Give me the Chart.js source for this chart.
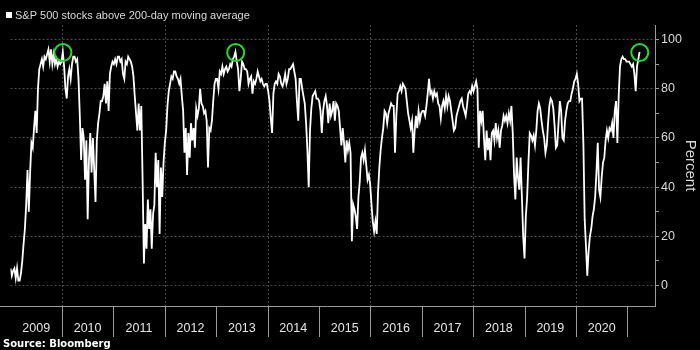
<!DOCTYPE html>
<html>
<head>
<meta charset="utf-8">
<script src="https://cdn.jsdelivr.net/npm/chart.js@4.4.1/dist/chart.umd.min.js"></script>
<style>
  html, body { margin: 0; padding: 0; background: #000; }
  canvas { display: block; }
</style>
</head>
<body>
<canvas id="breadthChart" width="700" height="350"></canvas>
<script>
// Share of S&P 500 members trading above their 200-day moving average
const seriesLabel = 'S&P 500 stocks above 200-day moving average';
const sourceLabel = 'Source: Bloomberg';
const yearLabels = ['2009', '2010', '2011', '2012', '2013', '2014', '2015', '2016', '2017', '2018', '2019', '2020'];
const yTicks = [0, 10, 20, 30, 40, 50, 60, 70, 80, 90, 100];

// one reading roughly every 9 days, starting January 2009
const startYear = 2009.0;
const stepYears = 0.02544;

const vals2009to2010 = [
  7, 4, 6, 7, 3, 7, 2, 2, 5, 10,
  17, 23, 33, 47, 30, 46, 58, 56, 64, 71,
  62, 80, 88, 90, 92, 89, 93, 92, 94, 96,
  91, 96, 90, 94, 90, 92, 89, 91, 90, 91,
  95, 89, 80, 76, 85, 88, 84, 90, 93, 93,
  91, 92, 84, 69, 51, 64, 60, 43, 59, 27,
  51, 62, 46, 60, 47, 34, 59, 66, 70, 75,
  75, 77, 82, 74, 83, 71, 86, 89, 91
];
const vals2011to2012 = [
  90, 92, 90, 93, 93, 91, 92, 86, 84, 91,
  90, 93, 92, 91, 89, 85, 77, 70, 63, 74,
  63, 73, 43, 9, 25, 15, 35, 23, 31, 15,
  29, 33, 54, 40, 51, 21, 48, 36, 50, 58,
  63, 73, 79, 82, 85, 84, 87, 87, 85, 84,
  82, 84, 77, 71, 54, 64, 45, 62, 52, 66,
  59, 64, 56, 72, 69, 72, 80, 74, 73, 70,
  71, 67, 48, 64, 63, 67, 75, 82, 84
];
const vals2013to2014 = [
  84, 80, 87, 86, 89, 86, 88, 89, 87, 88,
  90, 89, 92, 93, 95, 91, 88, 79, 84, 91,
  90, 88, 88, 87, 82, 84, 85, 78, 83, 82,
  84, 87, 85, 83, 84, 82, 81, 82, 82, 79,
  75, 68, 62, 78, 82, 83, 82, 86, 85, 82,
  81, 83, 86, 82, 84, 88, 88, 89, 90, 87,
  84, 75, 67, 84, 84, 80, 77, 74, 66, 55,
  40, 63, 72, 77, 78, 79, 76, 76, 75
];
const vals2015to2016 = [
  71, 62, 71, 75, 77, 73, 66, 74, 69, 71,
  75, 67, 74, 73, 71, 64, 57, 64, 58, 50,
  59, 55, 58, 54, 18, 33, 31, 28, 23, 36,
  42, 52, 54, 51, 55, 49, 43, 45, 41, 33,
  26, 22, 26, 21, 38, 48, 55, 60, 64, 71,
  70, 66, 70, 72, 74, 73, 73, 54, 69, 78,
  79, 81, 79, 82, 81, 80, 75, 70, 67, 64,
  67, 54, 63, 69, 64, 71, 67, 70, 71
];
const vals2017to2018 = [
  71, 69, 73, 78, 84, 78, 79, 76, 79, 77,
  78, 74, 73, 68, 73, 75, 72, 77, 73, 77,
  75, 71, 67, 63, 64, 69, 71, 73, 75, 76,
  73, 71, 69, 73, 78, 79, 78, 81, 79, 81,
  83, 80, 56, 71, 67, 71, 60, 51, 63, 55,
  60, 51, 62, 63, 59, 66, 60, 63, 56, 63,
  65, 69, 67, 69, 66, 70, 67, 73, 62, 45,
  35, 52, 44, 39, 52, 36, 20, 11, 28
];
const vals2019to2021 = [
  36, 50, 62, 61, 59, 61, 57, 63, 71, 74,
  72, 67, 63, 60, 54, 57, 66, 73, 76, 75,
  72, 65, 56, 57, 66, 75, 71, 60, 59, 67,
  71, 74, 75, 75, 78, 80, 83, 84, 86, 82,
  75, 76, 76, 58, 27, 16, 4, 14, 20, 23,
  28, 31, 36, 46, 58, 39, 36, 44, 50, 52,
  59, 63, 60, 64, 63, 66, 60, 71, 75, 58,
  77, 89, 92, 93, 92, 92, 91, 91, 91, 90,
  89, 90, 86, 79, 89, 92, 95
];

// circled peaks
const peakDates = [2010.02, 2013.38, 2021.24];
const peakValues = [94.7, 94.7, 94.7];

const allValues = [].concat(vals2009to2010, vals2011to2012, vals2013to2014,
  vals2015to2016, vals2017to2018, vals2019to2021);
const linePoints = allValues.map((v, i) => ({ x: startYear + i * stepYears, y: v }));
const peakPoints = peakDates.map((d, i) => ({ x: d, y: peakValues[i] }));

const textFont = '"Liberation Sans", Arial, sans-serif';

const frame = {
  id: 'frame',
  beforeDraw(chart) {
    const { ctx, width, height } = chart;
    ctx.save();
    ctx.fillStyle = '#000';
    ctx.fillRect(0, 0, width, height);
    ctx.restore();
  },
  beforeDatasetsDraw(chart) {
    // dotted vertical grid every second year
    const { ctx, chartArea: a, scales: { x } } = chart;
    ctx.save();
    ctx.strokeStyle = '#4a4a4a';
    ctx.lineWidth = 1;
    ctx.setLineDash([2, 2]);
    for (let yr = 2010; yr <= 2020; yr += 2) {
      const px = Math.round(x.getPixelForValue(yr)) + 0.5;
      ctx.beginPath();
      ctx.moveTo(px, a.top);
      ctx.lineTo(px, a.bottom);
      ctx.stroke();
    }
    ctx.restore();
  },
  afterDraw(chart) {
    const { ctx, chartArea: a, scales: { x } } = chart;
    ctx.save();
    // bottom axis with year separators
    ctx.strokeStyle = '#9a9a9a';
    ctx.lineWidth = 1;
    ctx.beginPath();
    ctx.moveTo(0, a.bottom + 0.5);
    ctx.lineTo(a.right, a.bottom + 0.5);
    for (let i = 1; i <= yearLabels.length; i++) {
      const px = Math.round(x.getPixelForValue(startYear + i)) + 0.5;
      ctx.moveTo(px, a.bottom);
      ctx.lineTo(px, a.bottom + 31);
    }
    ctx.stroke();

    ctx.fillStyle = '#e4e4e4';
    ctx.font = '12.5px ' + textFont;
    ctx.textAlign = 'center';
    ctx.textBaseline = 'middle';
    yearLabels.forEach((lab, i) => {
      ctx.fillText(lab, x.getPixelForValue(startYear + i + 0.5), a.bottom + 23);
    });

    // legend
    ctx.fillStyle = '#ffffff';
    ctx.fillRect(6, 12, 6, 6);
    ctx.fillStyle = '#d8d8d8';
    ctx.font = '11px ' + textFont;
    ctx.textAlign = 'left';
    ctx.fillText(seriesLabel, 15, 15.5);

    // source
    ctx.fillStyle = '#ffffff';
    ctx.font = 'bold 10px "DejaVu Sans", Verdana, sans-serif';
    ctx.fillText(sourceLabel, 3, 344);
    ctx.restore();
  }
};

new Chart(document.getElementById('breadthChart'), {
  type: 'line',
  data: {
    datasets: [
      {
        label: 'peaks',
        data: peakPoints,
        showLine: false,
        pointRadius: 8.5,
        pointHoverRadius: 8.5,
        pointBorderWidth: 2,
        pointBorderColor: '#22dd22',
        pointBackgroundColor: 'rgba(0,0,0,0)',
        order: 0
      },
      {
        label: seriesLabel,
        data: linePoints,
        borderColor: '#ffffff',
        borderWidth: 1.8,
        pointRadius: 0,
        tension: 0,
        order: 1
      }
    ]
  },
  options: {
    responsive: false,
    animation: false,
    events: [],
    layout: { padding: { top: 25, bottom: 44, left: 0, right: 0 } },
    plugins: {
      legend: { display: false },
      tooltip: { enabled: false }
    },
    scales: {
      x: {
        type: 'linear',
        min: 2009,
        max: 2021.536,
        display: false
      },
      y: {
        position: 'right',
        min: -8.3,
        max: 105.9,
        afterBuildTicks: (s) => { s.ticks = yTicks.map(v => ({ value: v })); },
        afterFit: (s) => { s.width = 45; },
        grid: {
          color: (c) => (c.tick && c.tick.value % 20 === 0) ? '#4a4a4a' : 'rgba(0,0,0,0)',
          tickColor: '#9a9a9a',
          tickLength: 4,
          lineWidth: 1
        },
        border: { display: true, color: '#9a9a9a', dash: [2, 2] },
        ticks: {
          autoSkip: false,
          padding: 2,
          color: '#d8d8d8',
          font: { family: textFont, size: 12.5 },
          callback: (v) => (v % 20 === 0 ? String(v) : '')
        },
        title: {
          display: true,
          text: 'Percent',
          color: '#d8d8d8',
          font: { family: textFont, size: 15 },
          padding: 1
        }
      }
    }
  },
  plugins: [frame]
});
</script>
</body>
</html>
